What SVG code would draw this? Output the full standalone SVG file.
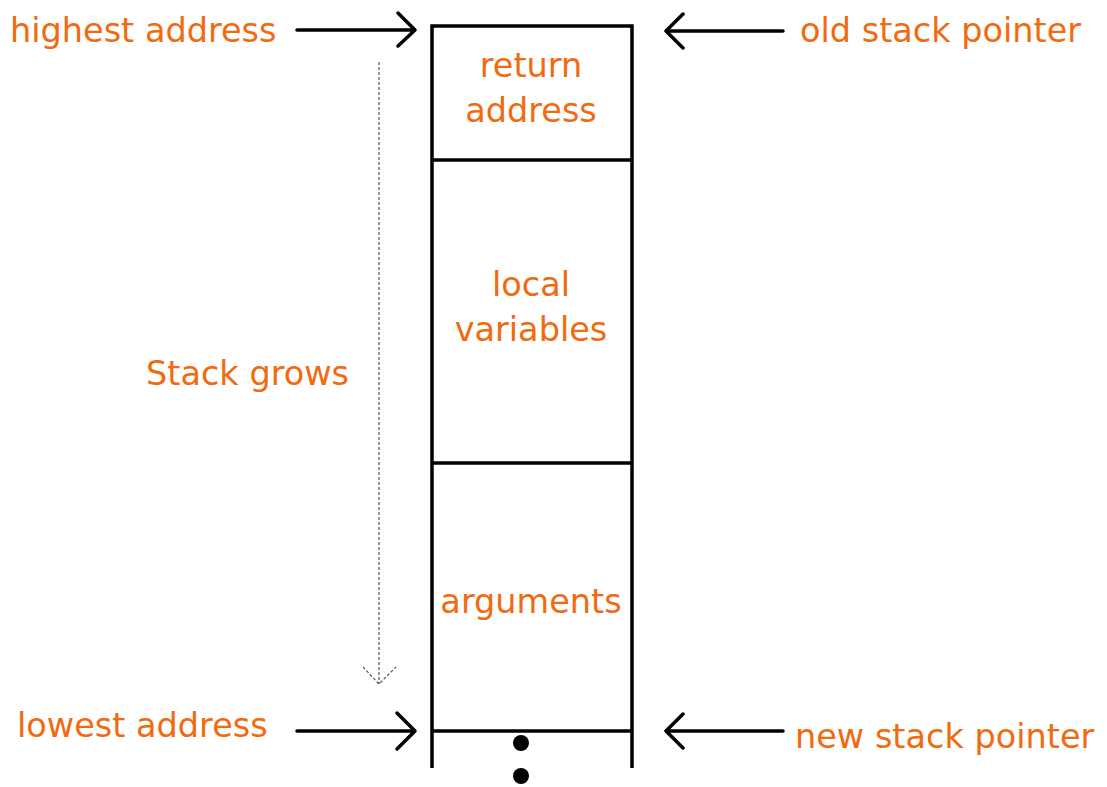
<svg xmlns="http://www.w3.org/2000/svg" width="1107" height="787" viewBox="0 0 1107 787">
<style>
.t{font-family:"DejaVu Sans","Liberation Sans",sans-serif;font-size:33.5px;fill:#F26A10}
.m{text-anchor:middle}
.ln{stroke:#000;stroke-width:3.5;fill:none}
.ar{stroke:#000;stroke-width:3.5;fill:none;stroke-linecap:round;stroke-linejoin:round}
.ds{stroke:#555;stroke-width:1.2;fill:none;stroke-dasharray:3 2}
</style>
<rect width="1107" height="787" fill="#fff"/>
<g id="stack">
<path class="ln" d="M432,768 V26 H632 V768"/>
<line class="ln" x1="432" y1="160" x2="632" y2="160"/>
<line class="ln" x1="432" y1="463" x2="632" y2="463"/>
<line class="ln" x1="432" y1="731" x2="632" y2="731"/>
<circle cx="521" cy="743" r="8" fill="#000"/>
<circle cx="521" cy="776" r="8" fill="#000"/>
</g>
<g id="return-address"><text class="t m" x="531" y="77">return</text><text class="t m" x="531" y="122">address</text></g>
<g id="local-variables"><text class="t m" x="531" y="296">local</text><text class="t m" x="531" y="341">variables</text></g>
<g id="arguments"><text class="t m" x="531" y="613">arguments</text></g>
<g id="labels">
<text class="t" x="10" y="42">highest address</text>
<text class="t" x="800" y="42">old stack pointer</text>
<text class="t" x="146" y="385">Stack grows</text>
<text class="t" x="17" y="737">lowest address</text>
<text class="t" x="795" y="748">new stack pointer</text>
</g>
<g id="connectors">
<path class="ar" d="M297,30 H414 M398,13 L415,30 L398,46"/>
<path class="ar" d="M783,31 H666 M683,14 L666,31 L683,48"/>
<path class="ar" d="M297,731 H414 M397,713 L415,731 L397,749"/>
<path class="ar" d="M783,731 H666 M683,714 L666,731 L683,748"/>
<path class="ds" d="M379,62 V684 M363,667 L379,684 L396,667"/>
</g>
</svg>
